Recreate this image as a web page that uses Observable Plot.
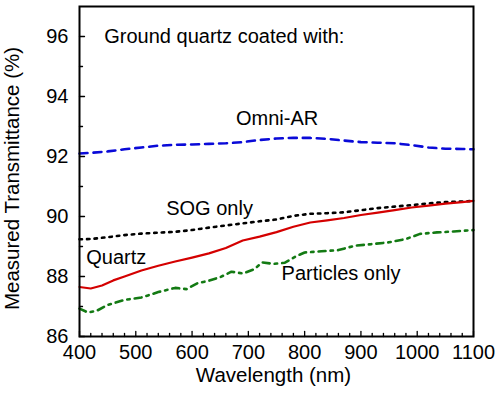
<!DOCTYPE html>
<html>
<head>
<meta charset="utf-8">
<script src="https://cdn.jsdelivr.net/npm/d3@7"></script>
<script src="https://cdn.jsdelivr.net/npm/@observablehq/plot@0.6"></script>
<style>
  html, body { margin: 0; padding: 0; background: white; }
</style>
</head>
<body>
<div id="chart"></div>
<script>
// Omni-AR (blue dashed)
const omniWl = [400, 420, 450, 480, 510, 540, 570, 600, 630, 660, 690, 720, 750, 780, 810, 840, 870, 900, 930, 960, 990, 1020, 1050, 1080, 1100];
const omniT  = [92.10, 92.12, 92.17, 92.24, 92.30, 92.36, 92.39, 92.40, 92.42, 92.44, 92.48, 92.55, 92.60, 92.62, 92.62, 92.59, 92.53, 92.48, 92.46, 92.44, 92.38, 92.30, 92.26, 92.25, 92.24];

// SOG only (black dotted)
const sogWl = [400, 420, 450, 480, 510, 540, 570, 600, 630, 660, 690, 720, 750, 780, 810, 840, 870, 900, 930, 960, 990, 1020, 1050, 1080, 1100];
const sogT  = [89.24, 89.25, 89.31, 89.38, 89.43, 89.46, 89.49, 89.55, 89.63, 89.70, 89.77, 89.84, 89.90, 90.02, 90.09, 90.11, 90.14, 90.21, 90.28, 90.33, 90.38, 90.44, 90.48, 90.50, 90.52];

// Quartz (red solid)
const quartzWl = [400, 420, 440, 460, 480, 510, 540, 570, 600, 630, 660, 690, 720, 750, 780, 810, 840, 870, 900, 930, 960, 990, 1020, 1050, 1080, 1100];
const quartzT  = [87.65, 87.60, 87.70, 87.87, 88.00, 88.20, 88.36, 88.50, 88.63, 88.77, 88.95, 89.20, 89.33, 89.48, 89.66, 89.80, 89.87, 89.95, 90.05, 90.13, 90.21, 90.30, 90.36, 90.43, 90.48, 90.52];

// Particles only (green dash-dot)
const partWl = [400, 415, 430, 450, 480, 510, 540, 570, 590, 610, 630, 650, 670, 690, 710, 725, 745, 765, 785, 800, 830, 860, 890, 920, 950, 980, 1005, 1035, 1065, 1100];
const partT  = [86.93, 86.80, 86.85, 87.05, 87.22, 87.30, 87.48, 87.62, 87.58, 87.78, 87.86, 87.98, 88.16, 88.10, 88.24, 88.47, 88.42, 88.46, 88.68, 88.80, 88.84, 88.88, 89.03, 89.08, 89.14, 89.25, 89.42, 89.47, 89.50, 89.55];

// Ticks
const xMajor = [400, 500, 600, 700, 800, 900, 1000, 1100];
const xMinor = d3.range(420, 1100, 20).filter(v => v % 100 !== 0);
const yMajor = [86, 88, 90, 92, 94, 96];
const yMinor = [87, 89, 91, 93, 95];

// Annotations
const labelText = ["Ground quartz coated with:", "Omni-AR", "SOG only", "Quartz", "Particles only"];
const labelWl   = [444, 678, 554, 412, 759];
const labelT    = [96.0, 93.25, 90.27, 88.63, 88.10];

const toRows = (wl, t) => wl.map((w, i) => ({w, t: t[i]}));
const labels = labelText.map((s, i) => ({s, w: labelWl[i], t: labelT[i]}));

const tickUp = {draw(c, l) { c.moveTo(0, 0); c.lineTo(0, -l); }};
const tickRight = {draw(c, l) { c.moveTo(0, 0); c.lineTo(l, 0); }};

const chart = Plot.plot({
  width: 496,
  height: 394,
  marginLeft: 79,
  marginRight: 23,
  marginTop: 6,
  marginBottom: 58,
  style: {fontFamily: "'Liberation Sans', Arial, sans-serif", fontSize: "20px", background: "white", color: "black"},
  x: {domain: [400, 1100]},
  y: {domain: [86, 97]},
  marks: [
    Plot.line(toRows(omniWl, omniT), {x: "w", y: "t", stroke: "#0a0ad8", strokeWidth: 2.6, strokeDasharray: "8,6"}),
    Plot.line(toRows(sogWl, sogT), {x: "w", y: "t", stroke: "black", strokeWidth: 2.6, strokeDasharray: "2.5,5"}),
    Plot.line(toRows(quartzWl, quartzT), {x: "w", y: "t", stroke: "#d40000", strokeWidth: 2.2}),
    Plot.line(toRows(partWl, partT), {x: "w", y: "t", stroke: "#137a13", strokeWidth: 2.6, strokeDasharray: "7,5,2.5,5"}),
    Plot.text(labels, {x: "w", y: "t", text: "s", textAnchor: "start", fontSize: 20, fill: "black"}),
    Plot.vector(xMajor, {x: d => d, frameAnchor: "bottom", length: 5, anchor: "start", shape: tickUp, stroke: "black", strokeWidth: 1.3}),
    Plot.vector(xMinor, {x: d => d, frameAnchor: "bottom", length: 3, anchor: "start", shape: tickUp, stroke: "black", strokeWidth: 1.3}),
    Plot.vector(yMajor, {y: d => d, frameAnchor: "left", length: 5, anchor: "start", shape: tickRight, stroke: "black", strokeWidth: 1.3}),
    Plot.vector(yMinor, {y: d => d, frameAnchor: "left", length: 3, anchor: "start", shape: tickRight, stroke: "black", strokeWidth: 1.3}),
    Plot.axisX(xMajor, {tickSize: 0, tickPadding: 8, label: null, fontSize: 20, tickFormat: d3.format("d")}),
    Plot.axisY(yMajor, {tickSize: 0, tickPadding: 11, label: null, fontSize: 20, tickFormat: d3.format("d")}),
    Plot.text(["Wavelength (nm)"], {frameAnchor: "bottom", textAnchor: "middle", dx: -3, dy: 45, fontSize: 20.5}),
    Plot.text(["Measured Transmittance (%)"], {frameAnchor: "left", textAnchor: "middle", rotate: -90, dx: -67, dy: 7, fontSize: 20.5}),
    Plot.frame({stroke: "black", strokeWidth: 2})
  ]
});
document.getElementById("chart").appendChild(chart);
</script>
</body>
</html>
